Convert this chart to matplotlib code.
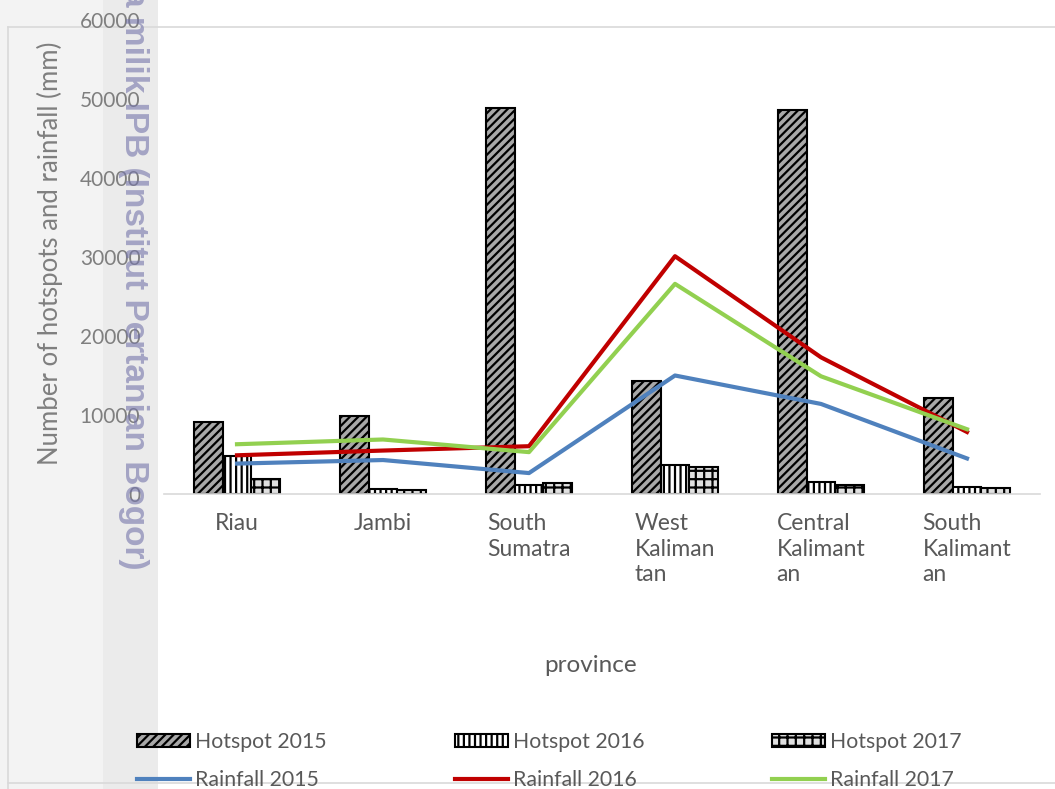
import matplotlib.pyplot as plt
from matplotlib.patches import Rectangle, Patch
from matplotlib.lines import Line2D
import numpy as np

# Data
provinces = ["Riau", "Jambi", "South\nSumatra", "West\nKaliman\ntan",
             "Central\nKalimant\nan", "South\nKalimant\nan"]
hotspot_2015 = [9100, 9850, 48800, 14300, 48600, 12100]
hotspot_2016 = [4800, 600, 1200, 3700, 1500, 850]
hotspot_2017 = [1850, 500, 1450, 3450, 1100, 800]
rainfall_2015 = [3850, 4300, 2650, 15000, 11400, 4500]
rainfall_2016 = [4900, 5500, 6050, 30100, 17300, 7850]
rainfall_2017 = [6300, 6900, 5300, 26600, 14900, 8200]
y_ticks = [0, 10000, 20000, 30000, 40000, 50000, 60000]

plt.rcParams['font.family'] = ['Lato', 'DejaVu Sans']
plt.rcParams['hatch.linewidth'] = 1.6

W, H = 1055, 789
fig = plt.figure(figsize=(W / 100, H / 100), dpi=100)

# background bands on the left (scanned page look)
fig.patches.append(Rectangle((0, 0), 103 / W, 1, transform=fig.transFigure,
                             facecolor='#f3f3f3', edgecolor='none', zorder=-10))
fig.patches.append(Rectangle((103 / W, 0), 55 / W, 1, transform=fig.transFigure,
                             facecolor='#ebebeb', edgecolor='none', zorder=-10))
# chart frame
fig.add_artist(Line2D([8 / W, 8 / W], [0, 1 - 27 / H], transform=fig.transFigure,
                      color='#d9d9d9', lw=1.2, zorder=-5))
fig.add_artist(Line2D([8 / W, 1], [1 - 27 / H, 1 - 27 / H], transform=fig.transFigure,
                      color='#d9d9d9', lw=1.2, zorder=-5))

ax = fig.add_axes([164 / W, 1 - 494 / H, 876 / W, 474 / H])
ax.patch.set_alpha(0)
ax.set_zorder(1)

x = np.arange(len(provinces))
bw = 0.195
ax.bar(x - bw, hotspot_2015, bw, facecolor='#a8a8a8', edgecolor='black',
       hatch='////', linewidth=1.5, zorder=2)
ax.bar(x, hotspot_2016, bw, facecolor='white', edgecolor='black',
       hatch='|||', linewidth=1.5, zorder=2)
ax.bar(x + bw, hotspot_2017, bw, facecolor='#e0e0e0', edgecolor='black',
       hatch='++', linewidth=1.5, zorder=2)

ax.plot(x, rainfall_2015, color='#4f81bd', lw=3, zorder=3)
ax.plot(x, rainfall_2016, color='#c00000', lw=3, zorder=3)
ax.plot(x, rainfall_2017, color='#92d050', lw=3, zorder=3)

ax.set_xlim(-0.5, len(provinces) - 0.5)
ax.set_ylim(0, 60000)
ax.set_yticks(y_ticks)
ax.set_yticklabels([str(v) for v in y_ticks])
ax.set_xticks(x)
ax.set_xticklabels(provinces)
for lbl in ax.get_xticklabels():
    lbl.set_multialignment('left')
    lbl.set_linespacing(1.25)

for s in ['top', 'right', 'left']:
    ax.spines[s].set_visible(False)
ax.spines['bottom'].set_color('#d9d9d9')
ax.spines['bottom'].set_linewidth(1.2)
ax.tick_params(axis='y', length=0, pad=17, labelsize=15, labelcolor='#7f7f7f')
ax.tick_params(axis='x', length=0, pad=14, labelsize=16.5, labelcolor='#595959')

fig.text(50 / W, 1 - 253 / H, "Number of hotspots and rainfall (mm)", rotation=90,
         ha='center', va='center', fontsize=18.5, color='#7f7f7f')
fig.text(591 / W, 1 - 665 / H, "province", ha='center', va='center',
         fontsize=17.5, color='#595959')

# legend
handles = [
    Patch(facecolor='#a8a8a8', edgecolor='black', hatch='////', linewidth=1.5),
    Line2D([], [], color='#4f81bd', lw=3),
    Patch(facecolor='white', edgecolor='black', hatch='|||', linewidth=1.5),
    Line2D([], [], color='#c00000', lw=3),
    Patch(facecolor='#e0e0e0', edgecolor='black', hatch='++', linewidth=1.5),
    Line2D([], [], color='#92d050', lw=3),
]
labels = ["Hotspot 2015", "Rainfall 2015", "Hotspot 2016", "Rainfall 2016",
          "Hotspot 2017", "Rainfall 2017"]
leg = fig.legend(handles, labels, ncol=3, loc='upper left',
                 bbox_to_anchor=(137 / W, 1 - 732 / H), frameon=False,
                 fontsize=15.3, labelcolor='#595959', borderpad=0,
                 borderaxespad=0, handlelength=2.5, handleheight=0.6,
                 handletextpad=0.25, columnspacing=6.0, labelspacing=0.85)

# bottom frame line, drawn over the cut-off legend row
fig.add_artist(Line2D([8 / W, 1], [1 - 783 / H, 1 - 783 / H], transform=fig.transFigure,
                      color='#d9d9d9', lw=1.2, zorder=5))

# watermark
fig.text(133 / W, 1 - 570 / H, "Hak cipta milik IPB (Institut Pertanian Bogor)",
         rotation=-90, ha='center', va='bottom', fontsize=24, fontweight='bold',
         family=['Liberation Sans', 'DejaVu Sans'], color='#7474aa', alpha=0.6,
         zorder=6)

fig.savefig("out.png", dpi=100)
